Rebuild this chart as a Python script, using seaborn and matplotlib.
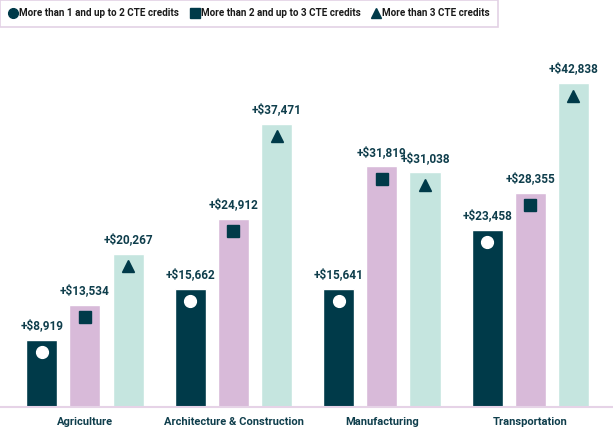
import matplotlib
matplotlib.use("Agg")
import matplotlib.pyplot as plt
import seaborn as sns
import pandas as pd
from matplotlib.lines import Line2D

categories = ["Agriculture", "Architecture & Construction", "Manufacturing", "Transportation"]
series = ["More than 1 and up to 2 CTE credits", "More than 2 and up to 3 CTE credits", "More than 3 CTE credits"]
credits_1_2 = [8919, 15662, 15641, 23458]
credits_2_3 = [13534, 24912, 31819, 28355]
credits_3_plus = [20267, 37471, 31038, 42838]

colors = ["#003a49", "#d8bad9", "#c5e5df"]
text_color = "#0f3e4c"
markers = ["o", "s", "^"]
marker_colors = ["white", "#003a49", "#003a49"]

rows = []
for s, vals in zip(series, [credits_1_2, credits_2_3, credits_3_plus]):
    for c, v in zip(categories, vals):
        rows.append({"category": c, "series": s, "value": v})
df = pd.DataFrame(rows)

sns.set_style("white")
plt.rcParams["font.family"] = ["Roboto", "DejaVu Sans"]

fig = plt.figure(figsize=(6.13, 4.36), dpi=100)
ax = fig.add_axes([0, 29 / 436, 1, 367 / 436])

sns.barplot(data=df, x="category", y="value", hue="series", order=categories,
            hue_order=series, palette=colors, width=0.87, gap=0.28,
            saturation=1, legend=False, ax=ax, errorbar=None)

ax.set_xlim(-0.572, 3.556)
ax.set_ylim(0, 48540)

slot = 0.87 / 3
for h, (vals, m, mc) in enumerate(zip([credits_1_2, credits_2_3, credits_3_plus], markers, marker_colors)):
    for i, v in enumerate(vals):
        x = i + (h - 1) * slot
        ax.plot([x], [v - 1650], marker=m, color=mc,
                markersize=8.5 if m == "o" else 8, linestyle="none")
        ax.annotate(f"+${v:,}", xy=(x, v), xytext=(0, 5.5), textcoords="offset points",
                    ha="center", va="bottom", fontsize=8.5, fontweight="bold",
                    color=text_color)

ax.set_xlabel("")
ax.set_ylabel("")
ax.set_yticks([])
ax.tick_params(axis="x", length=0, pad=7, labelsize=8, labelcolor=text_color)
for lab in ax.get_xticklabels():
    lab.set_fontweight("bold")
for side in ["top", "right", "left"]:
    ax.spines[side].set_visible(False)
ax.spines["bottom"].set_color("#e6d3e7")
ax.spines["bottom"].set_linewidth(1.5)

handles = [
    Line2D([], [], marker="o", color="#003a49", linestyle="none", markersize=7),
    Line2D([], [], marker="s", color="#003a49", linestyle="none", markersize=7),
    Line2D([], [], marker="^", color="#003a49", linestyle="none", markersize=7),
]
leg = fig.legend(handles, series, loc="upper left", bbox_to_anchor=(0, 1), ncol=3,
                 frameon=True, fancybox=False, edgecolor="#dcc6de", fontsize=7.1,
                 handletextpad=0.1, columnspacing=1.1, handlelength=1.0,
                 borderpad=0.85, borderaxespad=0.0)
leg.get_frame().set_linewidth(1.2)
for t in leg.get_texts():
    t.set_fontweight("bold")
    t.set_color("#1a1a1a")

fig.savefig("out.png", dpi=100)
